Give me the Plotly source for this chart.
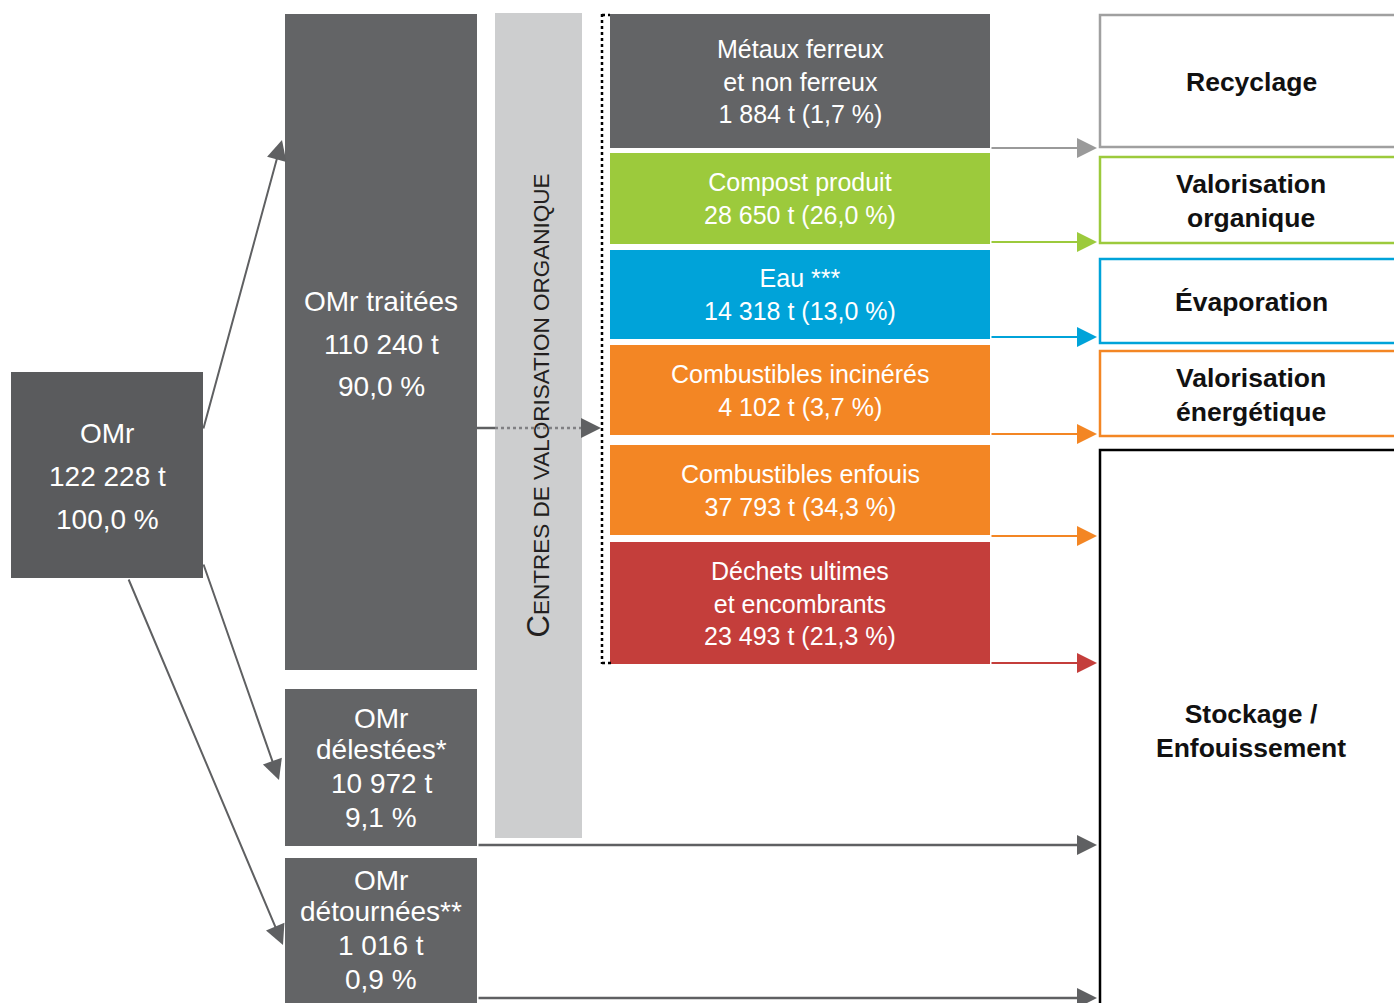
import plotly.graph_objects as go

# ---------------- DATA ----------------
source_label = "OMr"
source_tonnes = 122228
source_pct = 100.0

stream_label_lines = [["OMr traitées"], ["OMr", "délestées*"], ["OMr", "détournées**"]]
stream_tonnes = [110240, 10972, 1016]
stream_pct = [90.0, 9.1, 0.9]

centre_label = "CENTRES DE VALORISATION ORGANIQUE"

output_labels = ["Métaux ferreux<br>et non ferreux", "Compost produit", "Eau ***",
                 "Combustibles incinérés", "Combustibles enfouis",
                 "Déchets ultimes<br>et encombrants"]
output_tonnes = [1884, 28650, 14318, 4102, 37793, 23493]
output_pct = [1.7, 26.0, 13.0, 3.7, 34.3, 21.3]
output_dest = [0, 1, 2, 3, 4, 4]

dest_labels = ["Recyclage", "Valorisation<br>organique", "Évaporation",
               "Valorisation<br>énergétique", "Stockage /<br>Enfouissement"]

# ---------------- STYLE / LAYOUT ----------------
W, H = 1394, 1003
FONT = "Liberation Sans, Arial, Helvetica, sans-serif"
DARK = "#5a5b5d"
MID = "#636466"
BAND = "#cdcecf"
ARROW = "#5f6062"
output_colors = ["#636466", "#9cca3c", "#00a3d9", "#f38624", "#f38624", "#c43e3b"]
output_arrow_colors = ["#9a9a9a", "#9cca3c", "#00a3d9", "#f38624", "#f38624", "#c43e3b"]
dest_colors = ["#a0a0a0", "#9cca3c", "#00a3d9", "#f38624", "#000000"]


def fr_t(v):
    return f"{v:,}".replace(",", " ") + " t"


def fr_pct(p):
    return f"{p:.1f}".replace(".", ",") + " %"


# geometry (pixel layout of the diagram)
src_box = (11, 203, 372, 578)
src_text_y = [433, 476, 519]
stream_boxes = [(285, 477, 14, 670), (285, 477, 689, 846), (285, 477, 858, 1010)]
stream_text_y = [[301, 344, 386], [718, 749, 783, 817], [880, 911, 945, 979]]
band_box = (495, 582, 13, 838)
dotted_x = 602
out_x0, out_x1 = 610, 990
out_y = [(14, 148), (153, 244), (250, 339), (345, 435), (445, 535), (542, 664)]
out_arrow_y = [148, 242, 337, 434, 536, 663]
dest_x0, dest_x1 = 1100, 1420
dest_y = [(15, 147), (157, 243), (259, 343), (351, 436), (450, 1020)]
dest_text_y = [82, 201, 302, 395, 731]
arrow_tip_x = 1097
src_arrows = [((203, 430), (282, 140)), ((203, 563), (279, 780)), ((128, 578), (283, 945))]

shapes = []
annots = []


def rect(x0, x1, y0, y1, fill, line_color=None, lw=0):
    shapes.append(dict(type="rect", xref="x", yref="y", x0=x0, x1=x1, y0=y0, y1=y1,
                       fillcolor=fill, line=dict(color=line_color or fill, width=lw),
                       layer="below"))


def text(x, y, s, size, color="white", bold=False, angle=0):
    annots.append(dict(x=x, y=y, xref="x", yref="y", text=(f"<b>{s}</b>" if bold else s),
                       showarrow=False, textangle=angle,
                       font=dict(family=FONT, size=size, color=color),
                       xanchor="center", yanchor="middle", align="center"))


def arrow(tail, tip, color, width=2, size=2.0):
    annots.append(dict(x=tip[0], y=tip[1], ax=tail[0], ay=tail[1], xref="x", yref="y",
                       axref="x", ayref="y", text="", showarrow=True, arrowhead=2,
                       arrowsize=size, arrowwidth=width, arrowcolor=color, standoff=0))


# source box
rect(src_box[0], src_box[1], src_box[2], src_box[3], DARK)
cx = (src_box[0] + src_box[1]) / 2
for s, y in zip([source_label, fr_t(source_tonnes), fr_pct(source_pct)], src_text_y):
    text(cx, y, s, 28)

# stream boxes
for (x0, x1, y0, y1), lines, t, p, ys in zip(stream_boxes, stream_label_lines,
                                            stream_tonnes, stream_pct, stream_text_y):
    rect(x0, x1, y0, y1, MID)
    cx = (x0 + x1) / 2
    for s, y in zip(lines + [fr_t(t), fr_pct(p)], ys):
        text(cx, y, s, 28)

# band with vertical text
rect(band_box[0], band_box[1], band_box[2], band_box[3], BAND)
first, rest = centre_label[0], centre_label[1:]
text((band_box[0] + band_box[1]) / 2 - 1, 406,
     f"{first}<span style='font-size:22.5px'>{rest}</span>", 31, color="#231f20", angle=-90)

# dotted bracket
shapes.append(dict(type="line", xref="x", yref="y", x0=dotted_x, x1=dotted_x, y0=14, y1=664,
                   line=dict(color="black", width=2.5, dash="dot")))
shapes.append(dict(type="line", xref="x", yref="y", x0=dotted_x, x1=out_x0, y0=15, y1=15,
                   line=dict(color="black", width=2.5, dash="dot")))
shapes.append(dict(type="line", xref="x", yref="y", x0=dotted_x, x1=out_x0 + 2, y0=663, y1=663,
                   line=dict(color="black", width=2.5, dash="dot")))

# treated -> centres arrow (solid, then dotted across the band)
mid_y = 428
shapes.append(dict(type="line", xref="x", yref="y", x0=477, x1=band_box[0], y0=mid_y, y1=mid_y,
                   line=dict(color=ARROW, width=2.5)))
shapes.append(dict(type="line", xref="x", yref="y", x0=band_box[0], x1=584, y0=mid_y, y1=mid_y,
                   line=dict(color="#808083", width=2.5, dash="dot")))
arrow((584, mid_y), (dotted_x - 1, mid_y), ARROW, 2, 2.0)

# output boxes
for (y0, y1), lab, t, p, c in zip(out_y, output_labels, output_tonnes, output_pct, output_colors):
    rect(out_x0, out_x1, y0, y1, c)
    text((out_x0 + out_x1) / 2, (y0 + y1) / 2, f"{lab}<br>{fr_t(t)} ({fr_pct(p)[:-2]} %)", 25)

# output arrows
for y, c in zip(out_arrow_y, output_arrow_colors):
    arrow((out_x1, y), (arrow_tip_x, y), c, 2, 2.0)

# destination boxes
for (y0, y1), lab, c, ty in zip(dest_y, dest_labels, dest_colors, dest_text_y):
    rect(dest_x0, dest_x1, y0, y1, "white", c, 2.5)
    text(1251, ty, lab, 26.5, color="#111111", bold=True)

# source arrows
for tail, tip in src_arrows:
    arrow(tail, tip, ARROW, 2, 2.0)

# diverted streams to storage
arrow((477, 845), (arrow_tip_x, 845), ARROW, 2.5, 1.6)
arrow((477, 998), (arrow_tip_x, 998), ARROW, 2.5, 1.6)

fig = go.Figure()
fig.update_layout(
    width=W, height=H, margin=dict(l=0, r=0, t=0, b=0),
    paper_bgcolor="white", plot_bgcolor="white",
    xaxis=dict(range=[0, W], visible=False, fixedrange=True),
    yaxis=dict(range=[H, 0], visible=False, fixedrange=True),
    shapes=shapes, annotations=annots, showlegend=False,
)
fig.write_html("out.html", config={"displayModeBar": False},
               post_script="document.body.style.margin='0';document.body.style.overflow='hidden';")
